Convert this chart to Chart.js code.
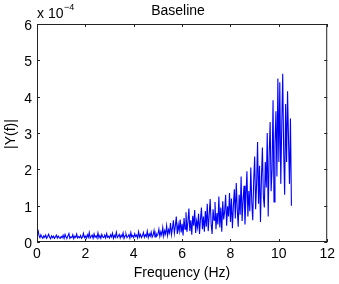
<!DOCTYPE html>
<html>
<head>
<meta charset="utf-8">
<script src="https://cdn.jsdelivr.net/npm/chart.js@4"></script>
<style>
  html, body { margin: 0; padding: 0; background: #fff; }
  #wrap { width: 339px; height: 284px; }
</style>
</head>
<body>
<div id="wrap"><canvas id="chart" width="339" height="284"></canvas></div>
<script>
// |Y(f)| in units of 1e-4, one row per Hz, bins every 0.04 Hz
const binWidth = 0.04;
const amp0 = [0.30,0.34,0.18,0.12,0.20,0.14,0.10,0.17,0.13,0.19,0.10,0.15,0.21,0.13,0.09,0.17,0.12,0.16,0.10,0.14,0.19,0.11,0.16,0.12,0.10];
const amp1 = [0.15,0.12,0.19,0.10,0.21,0.13,0.11,0.17,0.23,0.10,0.14,0.12,0.20,0.09,0.16,0.13,0.22,0.11,0.15,0.12,0.18,0.10,0.14,0.24,0.12];
const amp2 = [0.16,0.10,0.20,0.13,0.26,0.11,0.15,0.19,0.10,0.22,0.13,0.17,0.11,0.25,0.12,0.18,0.10,0.21,0.14,0.12,0.19,0.11,0.23,0.13,0.16];
const amp3 = [0.11,0.20,0.14,0.24,0.10,0.18,0.13,0.27,0.12,0.16,0.21,0.11,0.19,0.14,0.25,0.10,0.17,0.22,0.12,0.15,0.20,0.11,0.26,0.14,0.18];
const amp4 = [0.12,0.23,0.15,0.19,0.11,0.28,0.14,0.21,0.12,0.17,0.26,0.13,0.20,0.15,0.30,0.12,0.22,0.16,0.27,0.13,0.19,0.32,0.14,0.24,0.17];
const amp5 = [0.21,0.35,0.15,0.28,0.19,0.40,0.16,0.31,0.22,0.45,0.18,0.34,0.25,0.52,0.20,0.38,0.60,0.24,0.44,0.70,0.22,0.48,0.30,0.62,0.26];
const amp6 = [0.50,0.18,0.66,0.35,0.82,0.28,0.55,0.92,0.30,0.60,0.20,0.72,0.45,0.88,0.25,0.58,0.40,0.78,0.22,0.64,0.95,0.35,0.70,0.28,0.85];
const amp7 = [0.42,1.05,0.30,0.75,1.18,0.50,0.22,0.90,0.60,1.10,0.35,0.80,0.48,1.25,0.40,0.95,0.28,1.12,0.62,0.85,1.30,0.45,0.98,0.70,1.35];
const amp8 = [0.55,1.20,0.38,1.00,1.45,0.65,1.62,0.90,0.42,1.30,0.75,1.80,0.58,1.15,1.55,0.48,1.25,1.95,0.70,1.40,0.85,2.05,1.10,0.60,1.70];
const amp9 = [2.35,0.90,1.60,2.75,1.05,2.10,0.55,1.75,2.60,1.25,0.95,2.20,1.50,3.00,0.70,2.40,3.30,1.40,2.00,3.90,1.10,2.70,3.60,1.80,4.50];
const amp10 = [2.20,4.40,1.60,3.20,4.63,2.50,1.30,3.80,2.20,4.15,2.80,1.60,3.40,1.00];

const amplitude = [].concat(amp0, amp1, amp2, amp3, amp4, amp5, amp6, amp7, amp8, amp9, amp10);
const xTicks = [0, 2, 4, 6, 8, 10, 12];
const yTicks = [0, 1, 2, 3, 4, 5, 6];

const points = amplitude.map((v, i) => ({ x: +(i * binWidth).toFixed(2), y: v }));

const font = "'Liberation Sans', Arial, Helvetica, sans-serif";

// matlab style box, inward ticks, title, axis labels and exponent
const matlabFrame = {
  id: "matlabFrame",
  afterDraw(chart) {
    const { ctx, chartArea: a, scales } = chart;
    ctx.save();
    ctx.strokeStyle = "#222";
    ctx.lineWidth = 1;
    ctx.strokeRect(a.left + 0.5, a.top + 0.5, a.right - a.left - 1, a.bottom - a.top - 1);
    ctx.beginPath();
    xTicks.forEach(t => {
      const x = Math.round(scales.x.getPixelForValue(t)) + 0.5;
      ctx.moveTo(x, a.bottom); ctx.lineTo(x, a.bottom - 3);
      ctx.moveTo(x, a.top); ctx.lineTo(x, a.top + 3);
    });
    yTicks.forEach(t => {
      const y = Math.round(scales.y.getPixelForValue(t)) + 0.5;
      ctx.moveTo(a.left, y); ctx.lineTo(a.left + 3, y);
      ctx.moveTo(a.right, y); ctx.lineTo(a.right - 3, y);
    });
    ctx.stroke();

    ctx.fillStyle = "#000";
    ctx.textBaseline = "alphabetic";
    ctx.textAlign = "center";
    ctx.font = "14px " + font;
    ctx.fillText("Baseline", 178, 15);
    ctx.fillText("Frequency (Hz)", 182, 277);
    ctx.textAlign = "left";
    ctx.fillText("x 10", 37, 18);
    ctx.font = "9px " + font;
    ctx.fillText("\u22124", 64, 10);

    ctx.font = "14px " + font;
    ctx.translate(15, 134);
    ctx.rotate(-Math.PI / 2);
    ctx.textAlign = "center";
    ctx.fillText("|Y(f)|", 0, 0);
    ctx.restore();
  }
};

new Chart(document.getElementById("chart"), {
  type: "line",
  data: {
    datasets: [{
      data: points,
      borderColor: "#0000ff",
      borderWidth: 1.1,
      pointRadius: 0,
      tension: 0,
      fill: false
    }]
  },
  options: {
    responsive: false,
    animation: false,
    devicePixelRatio: 1,
    layout: { padding: { top: 24, right: 11, left: 0, bottom: 0 } },
    plugins: { legend: { display: false }, tooltip: { enabled: false }, title: { display: false } },
    scales: {
      x: {
        type: "linear",
        min: 0, max: 12,
        afterFit: s => { s.height = 42; },
        grid: { display: false, drawTicks: false },
        border: { display: false },
        ticks: { stepSize: 2, color: "#000", padding: 4, maxRotation: 0, font: { family: font, size: 14 } },
        title: { display: false }
      },
      y: {
        min: 0, max: 6,
        afterFit: s => { s.width = 37; },
        grid: { display: false, drawTicks: false },
        border: { display: false },
        ticks: { stepSize: 1, color: "#000", padding: 5, labelOffset: 2, font: { family: font, size: 14 } },
        title: { display: false }
      }
    }
  },
  plugins: [matlabFrame]
});
</script>
</body>
</html>
